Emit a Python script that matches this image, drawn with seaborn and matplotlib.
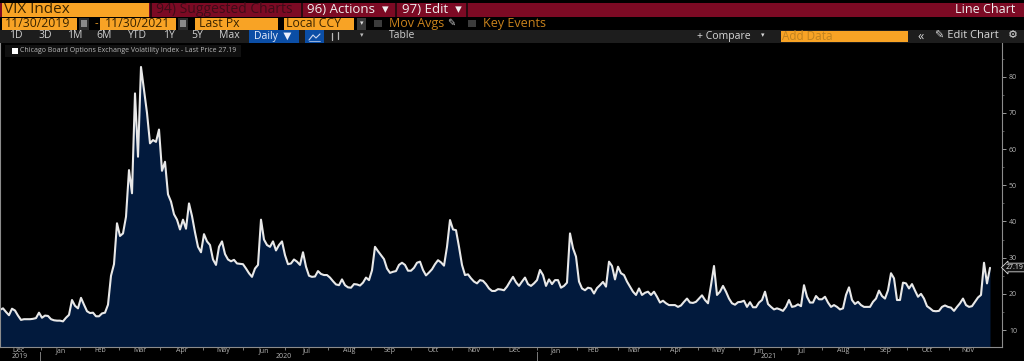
import numpy as np
import pandas as pd
import matplotlib
matplotlib.use("Agg")
import matplotlib.pyplot as plt
from matplotlib.patches import Rectangle
import seaborn as sns

vix_2019_2020 = [
    15.6, 16.0, 15.0, 14.1, 15.9, 15.4, 14.0, 12.8, 13.0, 13.0, 13.0, 13.1, 13.3, 14.8,
    13.4, 14.0, 13.9, 13.0, 12.7, 12.6, 12.6, 12.4, 13.4, 14.2, 18.3, 16.7, 16.0, 18.9,
    17.0, 15.2, 14.7, 14.8, 13.8, 13.8, 14.6, 14.8, 17.0, 25.0, 28.2, 39.5, 36.0, 36.7,
    41.3, 54.2, 47.8, 75.4, 57.9, 82.7, 76.3, 70.0, 61.6, 62.5, 62.0, 65.4, 54.0,
    56.5, 47.5, 45.5, 42.0, 40.5, 37.8, 40.5, 38.0, 45.0, 41.5, 37.0, 33.0, 31.5, 36.5,
    34.5, 33.5, 29.5, 28.0, 33.0, 34.5, 31.0, 29.5, 29.0, 29.4, 28.4, 28.3, 28.2, 27.0,
    25.7, 24.7, 27.0, 28.0, 40.5, 35.0, 33.5, 33.0, 34.5, 32.0, 33.5, 34.5, 30.7, 28.2,
    28.4, 29.5, 28.9, 28.0, 31.5, 27.5, 25.0, 24.7, 24.8, 26.3, 25.5, 25.2, 25.2, 24.5,
    23.5, 22.6, 22.4,
]
vix_2020_2021 = [
    24.0, 22.4, 21.8, 21.7, 22.7, 22.6, 22.3, 23.1, 24.5, 23.8, 26.5, 33.0, 31.8, 30.7,
    29.6, 27.0, 25.8, 26.1, 26.3, 28.0, 28.6, 28.0, 26.4, 26.4, 27.2, 28.6, 28.9, 26.6,
    25.1, 25.9, 26.8, 28.2, 29.3, 28.7, 27.8, 33.0, 40.4, 37.8, 37.6, 33.0, 28.0, 25.2,
    25.4, 24.3, 23.4, 22.9, 23.8, 23.6, 22.7, 21.5, 20.8, 20.8, 21.3, 21.2, 21.0, 22.0,
    23.4, 24.7, 23.2, 22.2, 23.4, 24.5, 22.7, 22.2, 22.9, 23.8, 26.6, 25.2, 22.2, 24.0,
    22.7, 23.8, 23.8, 21.7, 22.2, 23.1, 36.7, 32.6, 30.3, 23.4, 21.5, 21.0, 21.7, 21.5,
    20.1, 21.6, 22.4, 23.3, 22.0, 28.9, 27.7, 24.0, 27.5, 25.7, 25.2, 23.4, 22.0, 20.6,
    19.7, 21.5, 19.7, 20.3, 20.6, 19.7, 20.6, 19.2, 17.6, 18.1, 17.4, 16.9, 16.9, 16.9,
    16.4, 16.8,
]
vix_2021 = [
    17.8, 18.7, 17.6, 17.5, 17.8, 18.7, 19.6, 18.3, 17.4, 22.4, 27.7, 19.7, 20.6, 22.2,
    20.6, 18.7, 17.4, 17.0, 17.7, 17.8, 18.1, 16.4, 17.7, 16.3, 16.3, 17.6, 18.3, 20.6,
    17.2, 16.4, 15.7, 16.0, 15.7, 15.3, 16.4, 18.3, 16.4, 16.6, 17.1, 16.6, 22.4, 19.2,
    17.6, 17.6, 19.4, 18.5, 18.5, 19.2, 17.6, 16.4, 16.9, 16.4, 15.7, 16.0, 19.7, 21.8,
    18.3, 17.2, 17.8, 16.9, 16.4, 16.4, 16.4, 17.8, 18.7, 20.9, 19.4, 18.7, 21.0, 25.7,
    24.3, 18.3, 18.3, 23.1, 22.9, 21.5, 22.7, 20.9, 19.2, 20.0, 18.7, 16.6, 16.0, 15.3,
    15.2, 15.3, 16.4, 16.8, 16.4, 16.2, 15.3, 16.4, 17.4, 18.7, 16.9, 16.4, 16.6, 17.8,
    19.0, 19.7, 28.6, 22.9, 27.19,
]
month_labels = ["Dec", "Jan", "Feb", "Mar", "Apr", "May", "Jun", "Jul", "Aug", "Sep", "Oct", "Nov",
                "Dec", "Jan", "Feb", "Mar", "Apr", "May", "Jun", "Jul", "Aug", "Sep", "Oct", "Nov"]
month_centers = [19, 61, 100, 140, 182, 223, 264, 307, 349, 390, 433, 474,
                 515, 556, 593, 634, 676, 718, 759, 802, 843, 886, 927, 968]
month_starts = [41, 80, 119, 160, 203, 243, 285, 328, 371, 411, 452, 493,
                537, 577, 618, 660, 698, 739, 781, 822, 864, 907, 949]
year_labels = ["2019", "2020", "2021"]
year_centers = [20, 284, 769]
y_ticks = [10, 20, 30, 40, 50, 60, 70, 80]
range_buttons = ["1D", "3D", "1M", "6M", "YTD", "1Y", "5Y", "Max"]
range_centers = [16, 45, 75, 104, 137, 169, 197, 229]

W, H = 1024, 361
ORANGE = "#f8a325"
RED = "#7c0a24"
NAVY = "#021a3d"
GREY = "#b4b4b4"

sns.set_theme(style="dark")
plt.rcParams["font.family"] = ["Open Sans", "DejaVu Sans"]

df = pd.DataFrame({"vix": vix_2019_2020 + vix_2020_2021 + vix_2021})
df["step"] = np.arange(len(df)) * 3  # one reading every 3 px of chart width

fig = plt.figure(figsize=(W / 100, H / 100), dpi=100, facecolor="black")

# chart
ax = fig.add_axes([0, (H - 346.7) / H, 1002 / W, (346.7 - 42) / H], facecolor="black")
ax.fill_between(df["step"], df["vix"], 5.4, color=NAVY, lw=0)
sns.lineplot(data=df, x="step", y="vix", ax=ax, color="#e8e8e8", lw=1.5)
ax.set_xlim(0, 1002)
ax.set_ylim(5.4, 89.6)
ax.set_xlabel("")
ax.set_ylabel("")
ax.grid(False)
ax.spines["top"].set_visible(False)
for side in ["left", "bottom", "right"]:
    ax.spines[side].set_color("#8c8c8c")
    ax.spines[side].set_linewidth(0.8)
ax.yaxis.tick_right()
ax.set_yticks(y_ticks)
ax.set_yticks([v + 5 for v in y_ticks], minor=True)
ax.tick_params(axis="y", which="major", colors=GREY, labelsize=5, length=3, width=0.6, pad=2, right=True)
ax.tick_params(axis="y", which="minor", color="#777777", length=1.5, width=0.5, right=True)
ax.set_xticks(month_starts)
ax.set_xticklabels([])
ax.set_xticks(month_centers, labels=month_labels, minor=True)
ax.tick_params(axis="x", which="major", color="#8c8c8c", length=2, width=0.6, bottom=True)
ax.tick_params(axis="x", which="minor", length=0, labelsize=5, labelcolor=GREY, pad=0.5)

# overlay in pixel coordinates for the terminal toolbar
ui = fig.add_axes([0, 0, 1, 1], facecolor="none")
ui.set_xlim(0, W)
ui.set_ylim(H, 0)
ui.axis("off")


def box(x0, x1, y0, y1, color):
    ui.add_patch(Rectangle((x0, y0), x1 - x0, y1 - y0, color=color, lw=0))


def label(x, y, s, color="#d8d8d8", size=6.5, ha="left"):
    ui.text(x, y, s, color=color, fontsize=size, ha=ha, va="center")


# row 1
box(0, W, 3, 17, RED)
box(2, 149, 3, 17, ORANGE)
for x in [150, 301, 395, 466]:
    box(x, x + 1.5, 3, 17, "#2a0a10")
label(4, 9.5, "VIX Index", "#3a2400", 11)
label(156, 9.5, "94) Suggested Charts", "#3e0c18", 10)
label(307, 9.5, "96) Actions  ▾", "#eeeeee", 9.5)
label(402, 9.5, "97) Edit  ▾", "#eeeeee", 9.5)
label(1015, 9.5, "Line Chart", "#eeeeee", 9, ha="right")

# row 2
box(2, 77, 18, 30, ORANGE)
box(79, 89, 18, 30, "#2c2c2c")
box(81, 87, 20, 27, "#8a8a8a")
label(95, 23.5, "-", ORANGE, 8)
box(100, 176, 18, 30, ORANGE)
box(178, 188, 18, 30, "#2c2c2c")
box(180, 186, 20, 27, "#8a8a8a")
box(195, 278, 18, 30, ORANGE)
box(284, 354, 18, 30, ORANGE)
box(357, 366, 18, 30, "#3a3a3a")
label(361.5, 23.5, "▾", "#dddddd", 5, ha="center")
box(374, 382, 20, 27, "#3c3c3c")
box(468, 476, 20, 27, "#3c3c3c")
label(5, 23.5, "11/30/2019", "#3a2400", 8.8)
label(105, 23.5, "11/30/2021", "#3a2400", 8.8)
label(199, 23.5, "Last Px", "#3a2400", 8.8)
label(286, 23.5, "Local CCY", "#3a2400", 8.8)
label(389, 23.5, "Mov Avgs", "#c9821c", 9)
label(447, 23.5, "✎", "#cccccc", 7)
label(483, 23.5, "Key Events", "#c9821c", 9)

# row 3
box(0, W, 30, 43, "#1d1d1d")
for name, cx in zip(range_buttons, range_centers):
    label(cx, 36, name, "#cfcfcf", 7.5, ha="center")
box(249, 299, 30, 43, "#0b4ea6")
label(254, 36, "Daily  ▼", "#e8eefc", 7.5)
box(305, 324, 30, 43, "#0b4ea6")
ui.plot([309, 313, 316, 320], [40, 35, 38, 34], color="#cfd8f0", lw=0.8)
ui.plot([309, 320], [41, 41], color="#cfd8f0", lw=0.5)
ui.plot([332, 332], [33, 40], color="#bbbbbb", lw=0.9)
ui.plot([338, 338], [32, 39], color="#bbbbbb", lw=0.9)
label(362, 36, "▾", "#bbbbbb", 5, ha="center")
label(402, 36, "Table", "#cfcfcf", 7.5, ha="center")
label(697, 36, "+ Compare", "#d8d8d8", 7.5)
label(763, 36, "▾", "#d8d8d8", 5, ha="center")
box(781, 908, 31, 42, ORANGE)
label(782, 36, "Add Data", "#c08320", 8.5)
label(921, 36, "«", "#d8d8d8", 9, ha="center")
label(935, 36, "✎ Edit Chart", "#d8d8d8", 8)
label(1013, 36, "⚙", "#d8d8d8", 8, ha="center")

# legend
box(5, 241, 45, 57, "#101010")
box(12, 18, 48, 54, "white")
label(20, 50.5, "Chicago Board Options Exchange Volatility Index - Last Price 27.19", "#b8b8b8", 5)

# year labels and separators
for name, cx in zip(year_labels, year_centers):
    label(cx, 357, name, GREY, 5, ha="center")
for x in [40, 537]:
    box(x, x + 0.8, 352, 361, "#777777")

# last value tag
ui.text(1015, 267.5, "27.19", color="#f0f0f0", fontsize=5, ha="center", va="center",
        bbox=dict(boxstyle="larrow,pad=0.12", fc="#111111", ec="#dddddd", lw=0.6))

fig.savefig("out.png", dpi=100, facecolor="black")
